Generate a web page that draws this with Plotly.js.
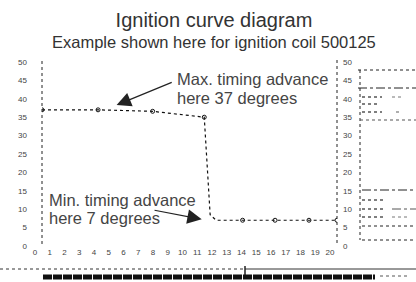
<!DOCTYPE html>
<html>
<head>
<meta charset="utf-8">
<script src="https://cdn.plot.ly/plotly-3.0.1.min.js"></script>
<style>html,body{margin:0;padding:0;background:#fff;}#chart{width:416px;height:282px;}</style>
</head>
<body>
<div id="chart"></div>
<script>
// Ignition curve: engine speed (x1000 1/min) vs timing advance (degrees)
const rpm      = [0, 3.8, 7.5, 9.0, 11.0, 11.4, 11.8, 13.6, 15.8, 18.1, 20];
const advance  = [37, 37, 36.6, 36.0, 35.0, 8.5, 7, 7, 7, 7, 7];
// breakpoints drawn with a marker
const pointRpm     = [0, 3.8, 7.5, 11.0, 13.6, 15.8, 18.1, 20];
const pointAdvance = [37, 37, 36.6, 35.0, 7, 7, 7, 7];
// axis ticks
const xTicks = [0,1,2,3,4,5,6,7,8,9,10,11,12,13,14,15,16,17,18,19,20];
const yTicks = [0,5,10,15,20,25,30,35,40,45,50];
const titleText = 'Ignition curve diagram';
const subtitleText = 'Example shown here for ignition coil 500125';
const maxLabel = ['Max. timing advance', 'here 37 degrees'];
const minLabel = ['Min. timing advance', 'here 7 degrees'];
const maxValue = 37, minValue = 7;

const FONT = 'Liberation Sans, Arial, sans-serif';
const TXT = '#454545';

const traces = [
  {x: rpm, y: advance, type: 'scatter', mode: 'lines',
   line: {color: '#111', width: 1.2, dash: 'dot'}, hoverinfo: 'skip', showlegend: false},
  {x: pointRpm, y: pointAdvance, type: 'scatter', mode: 'markers',
   marker: {symbol: 'circle-open', size: 4, color: '#111', line: {width: 1, color: '#111'}},
   showlegend: false}
];

function px2x(p){ return (p - 42) / 295; }
function py2y(p){ return (246 - p) / 184; }
function dotted(x0,y0,x1,y1,dash,w,c){
  return {type:'line', xref:'paper', yref:'paper', x0:px2x(x0), x1:px2x(x1), y0:py2y(y0), y1:py2y(y1),
          line:{color:c||'#222', width:w||1, dash:dash||'dot'}, layer:'above'};
}

const shapes = [
  dotted(42, 61, 42, 247),          // left axis
  dotted(337, 60, 337, 244),        // right axis
  dotted(360, 70, 360, 240),        // panel left edge
  dotted(358, 70, 416, 70),
  dotted(358, 88, 416, 88, 'dashdot'),
  dotted(362, 97, 382, 97, 'dot', 1.6, '#555'),
  dotted(392, 97, 404, 97, 'dot', 1.2, '#777'),
  dotted(362, 104, 380, 104, 'dot', 1.6, '#555'),
  dotted(362, 112, 382, 112, 'dot', 1.6, '#555'),
  dotted(396, 112, 402, 112, 'dot', 1.2, '#777'),
  dotted(360, 120, 416, 120, 'dot', 1.2, '#555'),
  dotted(362, 190, 416, 190, 'dashdot'),
  dotted(362, 200, 386, 200, 'dot', 1.6, '#555'),
  dotted(362, 209, 384, 209, 'dot', 1.6, '#555'),
  dotted(392, 209, 416, 209, 'dashdot', 1, '#555'),
  dotted(362, 217, 384, 217, 'dot', 1.6, '#555'),
  dotted(392, 217, 410, 217, 'dot', 1, '#777'),
  dotted(362, 226, 416, 226),
  dotted(362, 240, 416, 240),
  // footer (cut-off strip)
  dotted(0, 269, 245, 269, 'dot', 1, '#333'),
  dotted(245, 269, 416, 269, 'solid', 1, '#333'),
  dotted(245, 266, 245, 278, 'solid', 1.5, '#222'),
  dotted(43, 277, 375, 277, '9px,1px', 5, '#111'),
  dotted(380, 276, 410, 276, 'dot', 1, '#555')
];

const annotations = [
  {xref:'paper', yref:'paper', x:px2x(214), y:py2y(41.7), xanchor:'center', yanchor:'middle',
   text: subtitleText, showarrow:false, font:{family:FONT, size:16.5, color:'#333'}},
  {xref:'x', yref:'paper', x:(175-42)/14.75, y:py2y(79.3), xanchor:'left', yanchor:'middle',
   text: maxLabel[0], showarrow:false, font:{family:FONT, size:16.5, color:TXT}},
  {xref:'x', yref:'paper', x:(175-42)/14.75, y:py2y(98.3), xanchor:'left', yanchor:'middle',
   text: maxLabel[1], showarrow:false, font:{family:FONT, size:16.5, color:TXT}},
  {xref:'x', yref:'paper', x:(47-42)/14.75, y:py2y(200), xanchor:'left', yanchor:'middle',
   text: minLabel[0], showarrow:false, font:{family:FONT, size:16.5, color:TXT}},
  {xref:'x', yref:'paper', x:(47-42)/14.75, y:py2y(218.3), xanchor:'left', yanchor:'middle',
   text: minLabel[1], showarrow:false, font:{family:FONT, size:16.5, color:TXT}},
  {xref:'x', yref:'y', x:5.06, y:maxValue + 1.3, ax:56.6, ay:-23.3, text:'', showarrow:true,
   arrowhead:2, arrowsize:2.4, arrowwidth:1.2, arrowcolor:'#222', standoff:0},
  {xref:'x', yref:'y', x:10.83, y:minValue + 0.26, ax:-48.7, ay:-9.3, text:'', showarrow:true,
   arrowhead:2, arrowsize:2.4, arrowwidth:1.2, arrowcolor:'#222', standoff:0}
];

const layout = {
  width: 416, height: 282,
  margin: {l: 42, r: 79, t: 62, b: 36, pad: 0},
  paper_bgcolor: '#fff', plot_bgcolor: '#fff',
  font: {family: FONT, color: '#333'},
  title: {text: titleText, font: {family: FONT, size: 20, color: '#333'},
          x: 214/416, xanchor: 'center', xref: 'container', y: 1 - 20/282, yanchor: 'middle', yref: 'container'},
  xaxis: {range: [0, 20], tickvals: xTicks, ticktext: xTicks.map(String), showgrid: false, zeroline: false,
          showline: false, ticks: '', tickfont: {size: 8, color: '#444'}, ticklabelshift: -7, fixedrange: true},
  yaxis: {range: [0, 50], tickvals: yTicks, ticktext: yTicks.map(String), showgrid: false, zeroline: false,
          showline: false, ticks: '', tickfont: {size: 8, color: '#444'}, ticklabelstandoff: 14, fixedrange: true},
  yaxis2: {range: [0, 50], tickvals: yTicks, ticktext: yTicks.map(String), overlaying: 'y', side: 'right',
           showgrid: false, zeroline: false, showline: false, ticks: '', tickfont: {size: 8, color: '#444'},
           ticklabelstandoff: 5, fixedrange: true},
  shapes: shapes,
  annotations: annotations,
  showlegend: false
};

// bind the right axis with an invisible copy of the breakpoints
traces.push({x: pointRpm, y: pointAdvance, yaxis: 'y2', type: 'scatter', mode: 'markers',
             marker: {opacity: 0}, hoverinfo: 'skip', showlegend: false});

Plotly.newPlot('chart', traces, layout, {staticPlot: true, displayModeBar: false});
</script>
</body>
</html>
